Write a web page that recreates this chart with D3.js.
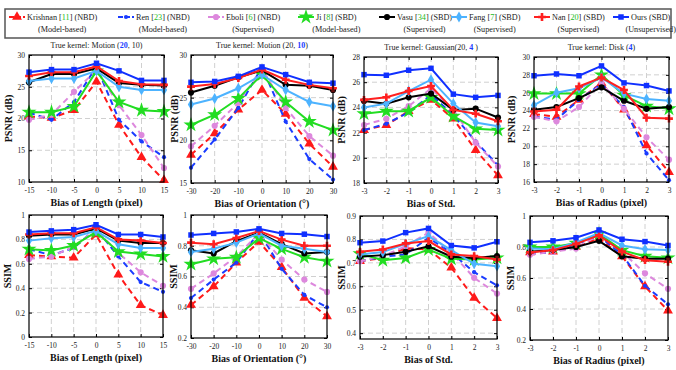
<!DOCTYPE html>
<html>
<head>
<meta charset="utf-8">
<script src="https://cdn.jsdelivr.net/npm/d3@7"></script>
<style>
  body { margin: 0; background: #fff; }
  svg, svg text { font-family: "Liberation Serif", "DejaVu Serif", serif; }
  svg { display: block; }
  .grid line { stroke: #d0d0d0; stroke-width: 1; stroke-dasharray: 5,3; }
  .tick-label { font-size: 7.5px; fill: #222; }
  .axis-label { font-size: 10px; font-weight: bold; fill: #111; }
  .title { font-size: 8px; fill: #222; }
  .legend-text { font-size: 8.2px; fill: #222; }
</style>
</head>
<body>
<svg id="chart" width="676" height="370"></svg>
<script>
// methods, in drawing order
const methods = ['Krishnan', 'Ren', 'Eboli', 'Ji', 'Vasu', 'Fang', 'Nan', 'Ours']
const refs = ['11', '23', '6', '8', '34', '7', '20', '']
const kinds = ['NBD', 'NBD', 'NBD', 'SBD', 'SBD', 'SBD', 'SBD', 'SBD']
const groups = ['Model-based', 'Model-based', 'Supervised', 'Model-based', 'Supervised', 'Supervised', 'Supervised', 'Unsupervised']

// x values
const biasLength = [-15, -10, -5, 0, 5, 10, 15]
const biasOrient = [-30, -20, -10, 0, 10, 20, 30]
const biasStd = [-3, -2, -1, 0, 1, 2, 3]
const biasRadius = [-3, -2, -1, 0, 1, 2, 3]

// PSNR (dB), one row per method
const psnrLength = [
  [20.3, 20.1, 21.3, 25.8, 19.0, 13.9, 10.3],
  [20.9, 19.8, 22.6, 28.2, 19.8, 16.4, 13.9],
  [19.8, 20.6, 24.2, 27.6, 22.1, 17.4, 12.2],
  [21.0, 21.0, 21.9, 27.5, 22.6, 21.3, 21.1],
  [25.7, 27.0, 27.0, 27.9, 25.6, 25.3, 25.2],
  [25.9, 26.3, 26.3, 27.5, 25.0, 24.5, 24.5],
  [26.7, 27.3, 27.3, 28.2, 25.9, 25.4, 25.3],
  [27.3, 27.7, 27.7, 28.7, 27.5, 26.0, 26.0]
]
const psnrOrient = [
  [18.3, 20.8, 23.6, 25.9, 23.1, 19.6, 16.9],
  [16.8, 20.1, 23.8, 28.6, 22.2, 17.8, 15.4],
  [19.3, 21.7, 24.4, 28.4, 23.8, 20.5, 18.2],
  [21.8, 23.0, 24.9, 27.7, 24.5, 22.2, 21.2],
  [25.6, 26.4, 27.4, 28.2, 26.5, 26.4, 25.9],
  [24.2, 24.9, 26.1, 27.7, 25.9, 24.5, 24.0],
  [26.3, 26.6, 27.3, 28.3, 27.1, 26.5, 26.1],
  [26.8, 26.9, 27.5, 28.6, 27.7, 26.8, 26.7]
]
const psnrStd = [
  [22.2, 22.6, 23.7, 24.6, 23.1, 20.6, 18.6],
  [22.2, 22.7, 23.6, 25.0, 23.4, 21.3, 19.4],
  [22.6, 23.1, 24.1, 25.5, 23.8, 21.2, 19.3],
  [23.5, 23.7, 23.7, 24.8, 23.3, 22.3, 22.2],
  [24.5, 24.3, 24.8, 25.1, 23.8, 23.9, 23.2],
  [24.0, 24.3, 25.3, 26.2, 24.3, 22.8, 22.5],
  [24.6, 24.8, 25.3, 25.7, 23.8, 23.5, 22.9],
  [26.6, 26.55, 26.95, 27.1, 25.05, 24.8, 24.95]
]
const psnrRadius = [
  [23.6, 23.3, 25.2, 27.1, 24.1, 20.1, 17.1],
  [23.3, 23.0, 25.2, 27.0, 24.4, 19.2, 16.2],
  [23.3, 22.8, 24.4, 27.1, 24.2, 21.0, 18.5],
  [25.9, 25.9, 25.9, 28.0, 25.7, 24.5, 24.2],
  [24.1, 24.4, 25.4, 26.6, 25.1, 24.2, 24.4],
  [24.6, 26.0, 26.5, 27.7, 25.9, 25.3, 25.1],
  [23.9, 24.1, 26.7, 27.7, 26.3, 23.2, 23.1],
  [27.9, 28.1, 27.9, 29.0, 27.1, 26.8, 26.2]
]

// SSIM, one row per method
const ssimLength = [
  [0.67, 0.66, 0.65, 0.84, 0.51, 0.26, 0.18],
  [0.72, 0.67, 0.73, 0.89, 0.66, 0.45, 0.37],
  [0.64, 0.66, 0.74, 0.88, 0.69, 0.53, 0.42],
  [0.72, 0.71, 0.75, 0.86, 0.70, 0.68, 0.66],
  [0.83, 0.84, 0.84, 0.89, 0.79, 0.77, 0.77],
  [0.79, 0.81, 0.82, 0.87, 0.76, 0.73, 0.73],
  [0.84, 0.85, 0.85, 0.90, 0.80, 0.79, 0.77],
  [0.86, 0.87, 0.88, 0.92, 0.84, 0.84, 0.82]
]
const ssimOrient = [
  [0.415, 0.535, 0.69, 0.825, 0.66, 0.46, 0.34],
  [0.46, 0.58, 0.69, 0.89, 0.65, 0.48, 0.40],
  [0.52, 0.62, 0.73, 0.88, 0.71, 0.58, 0.50],
  [0.68, 0.715, 0.725, 0.85, 0.78, 0.725, 0.70],
  [0.77, 0.75, 0.83, 0.885, 0.81, 0.75, 0.76],
  [0.76, 0.78, 0.82, 0.88, 0.80, 0.78, 0.76],
  [0.82, 0.81, 0.85, 0.895, 0.84, 0.80, 0.80],
  [0.87, 0.88, 0.89, 0.91, 0.88, 0.875, 0.86]
]
const ssimStd = [
  [0.707, 0.721, 0.763, 0.757, 0.679, 0.55, 0.464],
  [0.707, 0.726, 0.736, 0.807, 0.743, 0.66, 0.604],
  [0.707, 0.729, 0.771, 0.829, 0.743, 0.636, 0.569],
  [0.739, 0.711, 0.721, 0.757, 0.717, 0.714, 0.721],
  [0.726, 0.733, 0.747, 0.771, 0.726, 0.721, 0.729],
  [0.736, 0.746, 0.781, 0.814, 0.754, 0.696, 0.686],
  [0.747, 0.757, 0.783, 0.793, 0.736, 0.729, 0.714],
  [0.786, 0.793, 0.829, 0.847, 0.774, 0.764, 0.79]
]
const ssimRadius = [
  [0.765, 0.77, 0.80, 0.855, 0.74, 0.545, 0.39],
  [0.76, 0.765, 0.82, 0.87, 0.75, 0.55, 0.43],
  [0.75, 0.77, 0.79, 0.88, 0.77, 0.63, 0.53],
  [0.80, 0.80, 0.825, 0.885, 0.78, 0.74, 0.73],
  [0.77, 0.78, 0.80, 0.84, 0.74, 0.725, 0.725],
  [0.79, 0.785, 0.83, 0.89, 0.81, 0.785, 0.78],
  [0.765, 0.78, 0.82, 0.875, 0.77, 0.715, 0.705],
  [0.83, 0.84, 0.86, 0.91, 0.85, 0.835, 0.81]
]

// styling per method
const colors = ['#ff1a1a', '#1a3cff', '#dd88dd', '#22dd22', '#000000', '#4db3ff', '#ff2020', '#1030ff']
const dashed = [true, true, true, false, false, false, false, false]
const shapes = [d3.symbolTriangle, d3.symbolCircle, d3.symbolCircle, d3.symbolStar, d3.symbolCircle, d3.symbolDiamond, d3.symbolCross, d3.symbolSquare]
const sizes = [42, 14, 30, 70, 30, 34, 34, 30]

const svg = d3.select('#chart')
const blue = '#1a3cff'
const green = '#22bb22'

const panels = [
  { box: [29, 55, 164, 182], xs: biasLength, data: psnrLength, xTicks: biasLength, yDomain: [10, 30], yTicks: [10, 15, 20, 25, 30],
    title: [['True kernel: Motion (', null], ['20', blue], [', 10)', null]], xlabel: 'Bias of Length (pixel)', ylabel: 'PSNR (dB)', ylx: 8 },
  { box: [191, 55, 333, 183], xs: biasOrient, data: psnrOrient, xTicks: biasOrient, yDomain: [15, 30], yTicks: [15, 20, 25, 30],
    title: [['True kernel: Motion (20, ', null], ['10', blue], [')', null]], xlabel: 'Bias of Orientation (°)', ylabel: 'PSNR (dB)', ylx: 174 },
  { box: [364, 57, 498, 183], xs: biasStd, data: psnrStd, xTicks: biasStd, yDomain: [18, 28], yTicks: [18, 20, 22, 24, 26, 28],
    title: [['True kernel: Gaussian(20, ', null], ['4', blue], [' )', null]], xlabel: 'Bias of Std.', ylabel: 'PSNR (dB)', ylx: 341 },
  { box: [534, 57, 669, 182], xs: biasRadius, data: psnrRadius, xTicks: biasRadius, yDomain: [16, 30], yTicks: [16, 18, 20, 22, 24, 26, 28, 30],
    title: [['True kernel: Disk (', null], ['4', blue], [')', null]], xlabel: 'Bias of Radius (pixel)', ylabel: 'PSNR (dB)', ylx: 511 },
  { box: [29, 215, 163, 337], xs: biasLength, data: ssimLength, xTicks: biasLength, yDomain: [0, 1], yTicks: [0, 0.2, 0.4, 0.6, 0.8, 1],
    title: null, xlabel: 'Bias of Length (pixel)', ylabel: 'SSIM', ylx: 7 },
  { box: [191, 215, 327, 338], xs: biasOrient, data: ssimOrient, xTicks: biasOrient, yDomain: [0.2, 1], yTicks: [0.2, 0.4, 0.6, 0.8, 1],
    title: null, xlabel: 'Bias of Orientation (°)', ylabel: 'SSIM', ylx: 173 },
  { box: [360, 216, 497, 339], xs: biasStd, data: ssimStd, xTicks: biasStd, yDomain: [0.375, 0.9], yTicks: [0.4, 0.5, 0.6, 0.7, 0.8, 0.9],
    title: null, xlabel: 'Bias of Std.', ylabel: 'SSIM', ylx: 341 },
  { box: [530, 216, 668, 340], xs: biasRadius, data: ssimRadius, xTicks: biasRadius, yDomain: [0.2, 1], yTicks: [0.2, 0.4, 0.6, 0.8, 1],
    title: null, xlabel: 'Bias of Radius (pixel)', ylabel: 'SSIM', ylx: 510 }
]

panels.forEach(p => {
  const [x0, y0, x1, y1] = p.box
  const x = d3.scaleLinear().domain(d3.extent(p.xs)).range([x0, x1])
  const y = d3.scaleLinear().domain(p.yDomain).range([y1, y0])

  // grid
  const grid = svg.append('g').attr('class', 'grid')
  grid.selectAll('.gx').data(p.xTicks.slice(1, -1)).join('line')
    .attr('x1', d => x(d)).attr('x2', d => x(d)).attr('y1', y0).attr('y2', y1)
  grid.selectAll('.gy').data(p.yTicks.filter(t => y(t) > y0 + 1 && y(t) < y1 - 1)).join('line')
    .attr('x1', x0).attr('x2', x1).attr('y1', d => y(d)).attr('y2', d => y(d))

  // axes (ticks inward, labels outside)
  svg.append('g')
    .attr('transform', `translate(0,${y1})`)
    .call(d3.axisBottom(x).tickValues(p.xTicks).tickSize(-3).tickPadding(6).tickFormat(d => String(d)))
    .call(g => g.select('.domain').remove())
    .call(g => g.selectAll('text').attr('class', 'tick-label').attr('font-family', null).attr('font-size', null))
  svg.append('g')
    .attr('transform', `translate(${x0},0)`)
    .call(d3.axisLeft(y).tickValues(p.yTicks).tickSize(-3).tickPadding(4).tickFormat(d => String(d)))
    .call(g => g.select('.domain').remove())
    .call(g => g.selectAll('text').attr('class', 'tick-label').attr('font-family', null).attr('font-size', null))
  // right/top inner ticks
  svg.append('g').attr('transform', `translate(${x1},0)`)
    .call(d3.axisRight(y).tickValues(p.yTicks).tickSize(-3).tickFormat(''))
    .call(g => g.select('.domain').remove())
  svg.append('g').attr('transform', `translate(0,${y0})`)
    .call(d3.axisTop(x).tickValues(p.xTicks).tickSize(-3).tickFormat(''))
    .call(g => g.select('.domain').remove())

  // series
  const line = d3.line().x((d, i) => x(p.xs[i])).y(d => y(d))
  p.data.forEach((vals, m) => {
    svg.append('path')
      .attr('d', line(vals))
      .attr('fill', 'none')
      .attr('stroke', colors[m])
      .attr('stroke-width', 2)
      .attr('stroke-dasharray', dashed[m] ? '6,4' : null)
    svg.append('g').selectAll('path').data(vals).join('path')
      .attr('transform', (d, i) => `translate(${x(p.xs[i])},${y(d)})`)
      .attr('d', d3.symbol().type(shapes[m]).size(sizes[m]))
      .attr('fill', colors[m])
  })

  // frame
  svg.append('rect')
    .attr('x', x0).attr('y', y0).attr('width', x1 - x0).attr('height', y1 - y0)
    .attr('fill', 'none').attr('stroke', '#000').attr('stroke-width', 1.2)

  // labels
  svg.append('text').attr('class', 'axis-label')
    .attr('x', (x0 + x1) / 2).attr('y', y1 + 24).attr('text-anchor', 'middle')
    .text(p.xlabel)
  svg.append('text').attr('class', 'axis-label')
    .attr('transform', `translate(${p.ylx},${(y0 + y1) / 2}) rotate(-90)`)
    .attr('text-anchor', 'middle').attr('dy', '0.35em')
    .text(p.ylabel)
  if (p.title) {
    const t = svg.append('text').attr('class', 'title')
      .attr('x', (x0 + x1) / 2).attr('y', y0 - 7).attr('text-anchor', 'middle')
    p.title.forEach(([s, c]) => {
      t.append('tspan').text(s).attr('fill', c).attr('font-weight', c ? 'bold' : null)
    })
  }
})

// legend
svg.append('rect').attr('x', 5).attr('y', 9).attr('width', 666).attr('height', 29)
  .attr('fill', '#fff').attr('stroke', '#555').attr('stroke-width', 1.5)

const legendX = [9, 118, 208, 298, 379, 451, 534, 613]
methods.forEach((name, m) => {
  const lx = legendX[m]
  const g = svg.append('g').attr('transform', `translate(${lx},17)`)
  g.append('line').attr('x1', 0).attr('x2', 16).attr('y1', 0).attr('y2', 0)
    .attr('stroke', colors[m]).attr('stroke-width', 2)
    .attr('stroke-dasharray', dashed[m] ? '5,2' : null)
  g.append('path').attr('transform', 'translate(8,0)')
    .attr('d', d3.symbol().type(shapes[m]).size(sizes[m]))
    .attr('fill', colors[m])
  const t = g.append('text').attr('class', 'legend-text').attr('x', 18).attr('y', 3)
  t.append('tspan').text(name + ' ')
  if (refs[m]) {
    t.append('tspan').text('[')
    t.append('tspan').text(refs[m]).attr('fill', green)
    t.append('tspan').text('] ')
  }
  t.append('tspan').text('(' + kinds[m] + ')')
  const w = t.node().getComputedTextLength()
  g.append('text').attr('class', 'legend-text')
    .attr('x', 18 + w / 2).attr('y', 15).attr('text-anchor', 'middle')
    .text('(' + groups[m] + ')')
})
</script>
</body>
</html>
